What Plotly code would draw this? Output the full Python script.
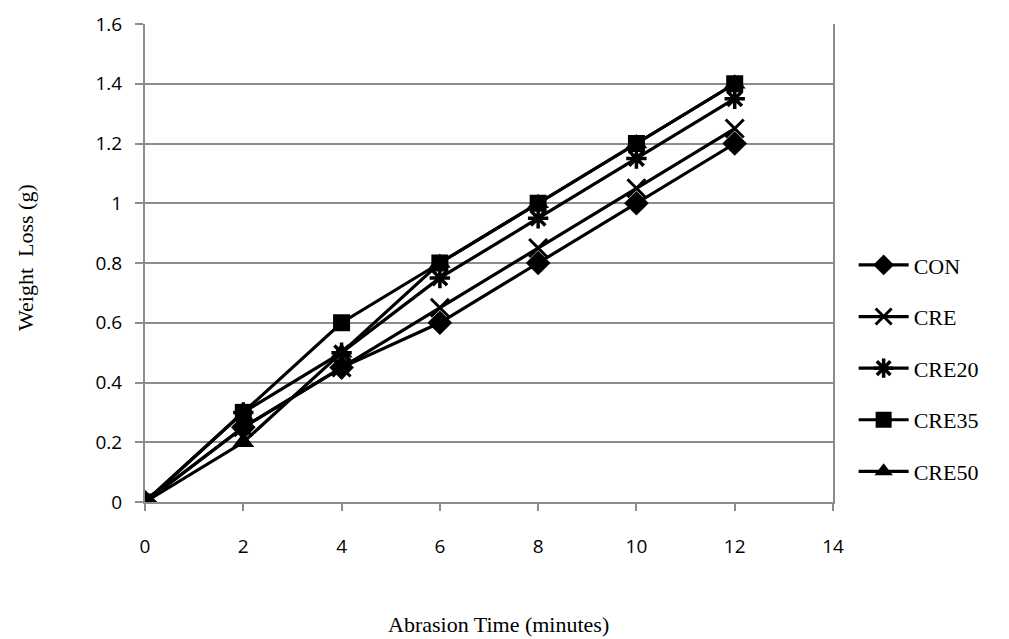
import plotly.graph_objects as go

# Abrasion time (minutes) and weight loss (g) for each mix
time_min = [0, 2, 4, 6, 8, 10, 12]
con = [0, 0.25, 0.45, 0.60, 0.80, 1.00, 1.20]
cre = [0, 0.25, 0.45, 0.65, 0.85, 1.05, 1.25]
cre20 = [0, 0.30, 0.50, 0.75, 0.95, 1.15, 1.35]
cre35 = [0, 0.30, 0.60, 0.80, 1.00, 1.20, 1.40]
cre50 = [0, 0.20, 0.50, 0.80, 1.00, 1.20, 1.40]

series = [
    ("CON", con, "diamond", 19, None),
    ("CRE", cre, "x-thin", 18, 3),
    ("CRE20", cre20, "asterisk", 17, 3.5),
    ("CRE35", cre35, "square", 17, None),
    ("CRE50", cre50, "triangle-up", 19, None),
]

fig = go.Figure()
for i, (name, vals, sym, size, lw) in enumerate(series):
    marker = dict(symbol=sym, size=size, color="black")
    if lw:
        marker["line"] = dict(color="black", width=lw)
    fig.add_trace(go.Scatter(
        x=time_min, y=vals, name=name, mode="lines+markers",
        line=dict(color="black", width=3.2),
        marker=marker,
        legendgroup=f"g{i}",
    ))

grid = "#8c8c8c"
serif = dict(family="Liberation Serif", size=22, color="black")
fig.update_layout(
    width=1009, height=639,
    margin=dict(l=145, r=176, t=24, b=137, autoexpand=False),
    paper_bgcolor="white", plot_bgcolor="white",
    showlegend=True,
    legend=dict(
        x=1.03, xanchor="left", xref="paper", y=0.28, yanchor="middle",
        font=serif,
        traceorder="grouped", tracegroupgap=20,
        itemwidth=50,
        bgcolor="rgba(0,0,0,0)",
    ),
    xaxis=dict(
        range=[0, 14], tickvals=[0, 2, 4, 6, 8, 10, 12, 14],
        showgrid=False, zeroline=False, automargin=False,
        showline=True, linecolor=grid, linewidth=2,
        ticks="outside", ticklen=7, tickwidth=1.5, tickcolor=grid,
        ticklabelstandoff=19,
        tickfont=dict(family="Open Sans", size=19, color="black"),
    ),
    yaxis=dict(
        range=[0, 1.6], tickvals=[0, 0.2, 0.4, 0.6, 0.8, 1, 1.2, 1.4, 1.6],
        ticktext=["0", "0.2", "0.4", "0.6", "0.8", "1", "1.2", "1.4", "1.6"],
        showgrid=True, gridcolor=grid, gridwidth=1.5,
        zeroline=False, automargin=False,
        showline=True, linecolor=grid, linewidth=2, mirror=True,
        ticks="outside", ticklen=8, tickwidth=1.5, tickcolor=grid,
        ticklabelstandoff=9,
        tickfont=dict(family="Open Sans", size=19, color="black"),
    ),
    annotations=[
        dict(text="Abrasion Time (minutes)", xref="paper", yref="paper",
             x=(498 - 145) / 688, y=-(624 - 502) / 478,
             xanchor="center", yanchor="middle", showarrow=False, font=serif),
        dict(text="Weight  Loss (g)", xref="paper", yref="paper",
             x=-(145 - 25) / 688, y=(502 - 258) / 478, textangle=-90,
             xanchor="center", yanchor="middle", showarrow=False, font=serif),
    ],
)

fig.write_html("out.html")
